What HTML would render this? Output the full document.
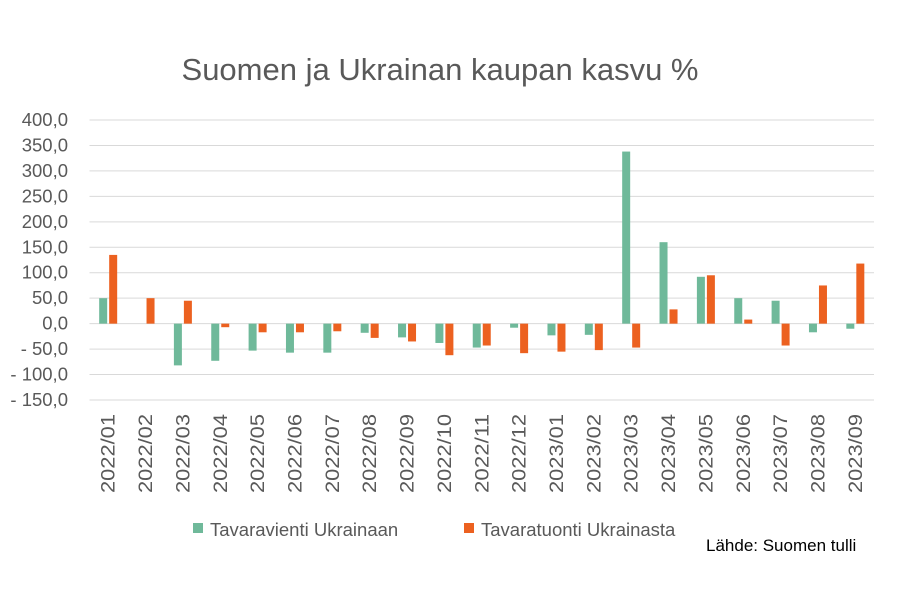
<!DOCTYPE html>
<html><head><meta charset="utf-8"><style>
body{margin:0;background:#fff;}
svg{display:block;font-family:"Liberation Sans",sans-serif;}
</style></head><body>
<svg width="900" height="600" viewBox="0 0 900 600">
<rect width="900" height="600" fill="#fff"/>
<text x="440" y="80" font-size="31" fill="#595959" text-anchor="middle">Suomen ja Ukrainan kaupan kasvu %</text>
<g id="grid" stroke="#d9d9d9" stroke-width="1"></g>
<g id="ylab" font-size="18.5" fill="#595959" text-anchor="end"></g>
<g id="bars"></g>
<g id="xlab" font-size="19" fill="#595959"></g>
<rect x="193" y="523" width="10" height="10" fill="#6fb99a"/>
<text x="210" y="536" font-size="18.5" fill="#595959">Tavaravienti Ukrainaan</text>
<rect x="464" y="523" width="10" height="10" fill="#ec6120"/>
<text x="481" y="536" font-size="18.5" fill="#595959">Tavaratuonti Ukrainasta</text>
<text x="706" y="551" font-size="17" fill="#000">Lähde: Suomen tulli</text>
</svg>
<script>
(function(){
const NS="http://www.w3.org/2000/svg";
function el(p,t,a,txt){const e=document.createElementNS(NS,t);for(const k in a)e.setAttribute(k,a[k]);if(txt!==undefined)e.textContent=txt;document.getElementById(p).appendChild(e);}
const pTop=120,pBot=400,pLeft=89.5,pRight=874;
const sc=(pBot-pTop)/550, y0=pTop+400*sc;
function Y(v){return y0-v*sc;}
for(let v=400;v>=-150;v-=50){
 el("grid","line",{x1:pLeft,x2:pRight,y1:Y(v),y2:Y(v)});
 let s=(v<0?"- ":"")+Math.abs(v).toFixed(1).replace(".",",");
 el("ylab","text",{x:68,y:Y(v)+6},s);
}
const labels=["2022/01","2022/02","2022/03","2022/04","2022/05","2022/06","2022/07","2022/08","2022/09","2022/10","2022/11","2022/12","2023/01","2023/02","2023/03","2023/04","2023/05","2023/06","2023/07","2023/08","2023/09"];
const G=[50,0,-82,-73,-53,-57,-57,-18,-27,-38,-47,-8,-23,-22,338,160,92,50,45,-17,-10];
const O=[135,50,45,-7,-17,-17,-15,-28,-35,-62,-43,-58,-55,-52,-47,28,95,8,-43,75,118];
const w=(pRight-pLeft)/21;
labels.forEach((l,i)=>{
 const c=pLeft+w*(i+0.5);
 const g=G[i],o=O[i];
 if(g!==0)el("bars","rect",{x:c-9,y:Math.min(Y(g),y0),width:8,height:Math.abs(Y(g)-y0),fill:"#6fb99a"});
 el("bars","rect",{x:c+1,y:Math.min(Y(o),y0),width:8,height:Math.abs(Y(o)-y0),fill:"#ec6120"});
 el("xlab","text",{x:0,y:0,transform:`translate(${c+6.5},414) rotate(-90)`,"text-anchor":"end",textLength:79,lengthAdjust:"spacingAndGlyphs"},l);
});
})();
</script>
</body></html>
